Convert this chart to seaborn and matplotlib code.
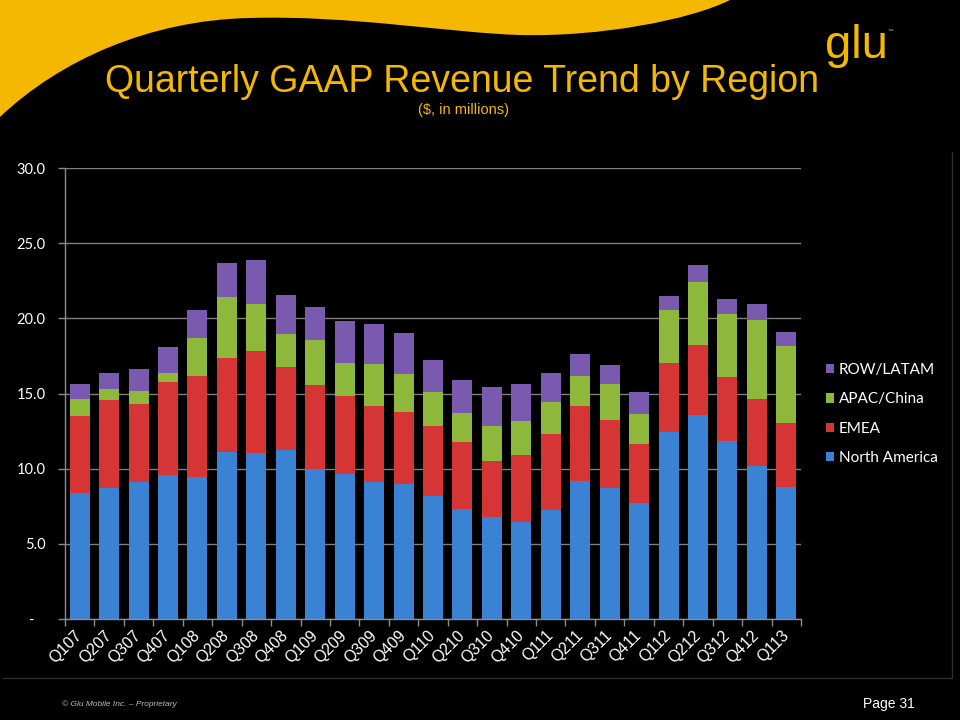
import numpy as np
import matplotlib
matplotlib.use("Agg")
import matplotlib.pyplot as plt
from matplotlib.patches import Patch, PathPatch
from matplotlib.path import Path
from matplotlib.ticker import FuncFormatter
import seaborn as sns

quarters = ["Q107", "Q207", "Q307", "Q407", "Q108", "Q208", "Q308", "Q408",
            "Q109", "Q209", "Q309", "Q409", "Q110", "Q210", "Q310", "Q410",
            "Q111", "Q211", "Q311", "Q411", "Q112", "Q212", "Q312", "Q412", "Q113"]
north_america = [8.40, 8.74, 9.14, 9.60, 9.47, 11.13, 11.02, 11.27, 9.98, 9.67, 9.11, 8.98,
                 8.18, 7.32, 6.79, 6.45, 7.23, 9.20, 8.74, 7.69, 12.44, 13.59, 11.82, 10.16, 8.80]
emea = [5.13, 5.81, 5.14, 6.15, 6.72, 6.26, 6.79, 5.47, 5.57, 5.14, 5.08, 4.81,
        4.68, 4.48, 3.74, 4.46, 5.10, 4.99, 4.52, 3.97, 4.59, 4.64, 4.26, 4.50, 4.26]
apac_china = [1.11, 0.77, 0.89, 0.64, 2.50, 4.05, 3.17, 2.20, 3.03, 2.22, 2.77, 2.53,
              2.22, 1.88, 2.33, 2.28, 2.13, 1.98, 2.37, 2.00, 3.50, 4.21, 4.19, 5.25, 5.12]
row_latam = [1.02, 1.02, 1.44, 1.71, 1.84, 2.22, 2.88, 2.59, 2.15, 2.79, 2.64, 2.68,
             2.15, 2.22, 2.57, 2.42, 1.93, 1.46, 1.25, 1.46, 0.96, 1.13, 1.04, 1.02, 0.91]
regions = ["ROW/LATAM", "APAC/China", "EMEA", "North America"]

YELLOW = "#F4B800"
colors = {"North America": "#3A82D4", "EMEA": "#D63535",
          "APAC/China": "#8DB83C", "ROW/LATAM": "#7A5AAE"}

sns.set_theme(style="dark", rc={"axes.facecolor": "black", "figure.facecolor": "black",
                                "savefig.facecolor": "black", "axes.edgecolor": "#8c8c8c"})
plt.rcParams["font.family"] = ["Liberation Sans", "DejaVu Sans"]

fig = plt.figure(figsize=(9.6, 7.2), dpi=100)

# slide background, swoosh, titles
bg = fig.add_axes([0, 0, 1, 1])
bg.set_xlim(0, 960)
bg.set_ylim(720, 0)
bg.axis("off")
verts = [(0, 0), (0, 117),
         (60, 60), (150, 20), (250, 18),
         (350, 15), (450, 33), (520, 35),
         (600, 37), (690, 20), (730, 0),
         (0, 0)]
codes = [Path.MOVETO, Path.LINETO] + [Path.CURVE4] * 9 + [Path.CLOSEPOLY]
bg.add_patch(PathPatch(Path(verts, codes), facecolor=YELLOW, edgecolor="none"))
bg.plot([3, 952], [678, 678], color="#2e2e2e", lw=1)
bg.plot([952, 952], [152, 678], color="#2e2e2e", lw=1)

bg.text(462, 92, "Quarterly GAAP Revenue Trend by Region", ha="center", va="baseline",
        fontsize=27, color=YELLOW)
bg.text(463, 114, "($, in millions)", ha="center", va="baseline", fontsize=10.5, color=YELLOW)
bg.text(856, 58, "glu", ha="center", va="baseline", fontsize=34, color=YELLOW)
bg.text(887, 33, "\u2122", ha="left", va="baseline", fontsize=4, color=YELLOW)
bg.text(62, 706, "\u00a9 Glu Mobile Inc. \u2013 Proprietary", ha="left", va="baseline",
        fontsize=6, style="italic", color="#bdbdbd")
bg.text(915, 708, "Page 31", ha="right", va="baseline", fontsize=10, color="white")

# chart
ax = fig.add_axes([65 / 960, 1 - 619 / 720, (801 - 65) / 960, (619 - 168) / 720])
na = np.array(north_america)
em = np.array(emea)
ap = np.array(apac_china)
rw = np.array(row_latam)
layers = [("ROW/LATAM", na + em + ap + rw), ("APAC/China", na + em + ap),
          ("EMEA", na + em), ("North America", na)]
for name, vals in layers:
    sns.barplot(x=quarters, y=vals, order=quarters, color=colors[name], width=0.68,
                saturation=1, linewidth=0, ax=ax)

ax.set_xlim(-0.5, len(quarters) - 0.5)
ax.set_ylim(0, 30)
ax.set_xlabel("")
ax.set_ylabel("")
ax.set_yticks(np.arange(0, 31, 5))
ax.yaxis.set_major_formatter(FuncFormatter(lambda v, p: "-   " if v == 0 else f"{v:.1f}"))
ax.yaxis.grid(True, color="#7f7f7f", linewidth=1)
ax.xaxis.grid(False)
ax.set_axisbelow(True)
for s in ["top", "right"]:
    ax.spines[s].set_visible(False)
for s in ["left", "bottom"]:
    ax.spines[s].set_color("#8c8c8c")
    ax.spines[s].set_linewidth(1)

ax.tick_params(axis="y", colors="white", labelsize=10.5, length=5, width=1, pad=9,
               direction="out", left=True)
ax.yaxis.set_tick_params(color="#8c8c8c")
for lab in ax.get_yticklabels():
    lab.set_family(["Lato", "DejaVu Sans"])

ax.set_xticks(np.arange(-0.5, len(quarters), 1), minor=True)
ax.tick_params(axis="x", which="minor", length=5, width=1, color="#8c8c8c", direction="out",
               bottom=True)
ax.tick_params(axis="x", which="major", length=0, pad=10, labelcolor="white", labelsize=11.5)
ax.set_xticks(range(len(quarters)))
ax.set_xticklabels(quarters, rotation=45, ha="right", va="center", rotation_mode="anchor")

handles = [Patch(facecolor=colors[r], edgecolor="none", label=r) for r in regions]
leg = ax.legend(handles=handles, loc="center left", bbox_to_anchor=(826 / 960, 1 - 414 / 720),
                bbox_transform=fig.transFigure, frameon=False, borderpad=0, borderaxespad=0,
                handlelength=0.55, handleheight=0.55, handletextpad=0.3, labelspacing=1.0,
                prop={"family": ["Lato", "DejaVu Sans"], "size": 11}, labelcolor="white")

fig.savefig("out.png", dpi=100, facecolor="black")
